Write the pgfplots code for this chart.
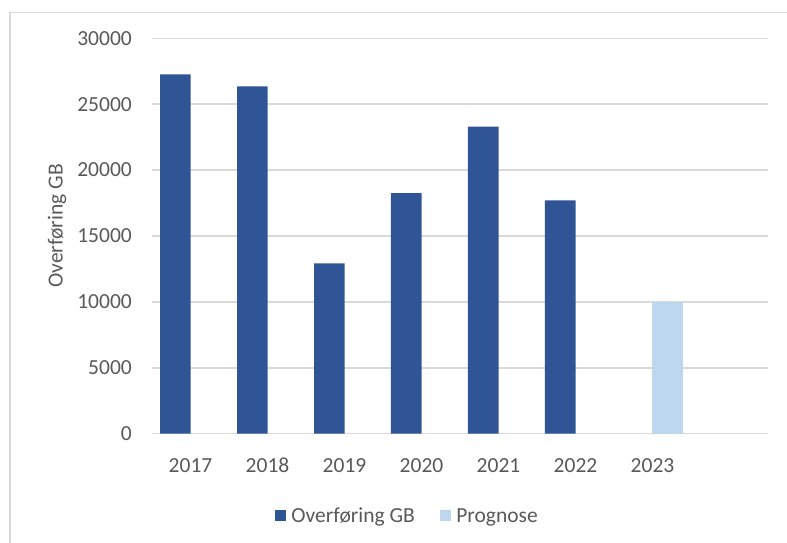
\documentclass[border=0pt]{standalone}
\usepackage{fontspec}
\setmainfont{Carlito}
\usepackage{pgfplots}
\pgfplotsset{compat=1.18}
\definecolor{darkbar}{RGB}{47,85,151}
\definecolor{lightbar}{RGB}{189,215,238}
\definecolor{gridgray}{RGB}{217,217,217}
\definecolor{textgray}{RGB}{89,89,89}
\begin{document}
\begin{tikzpicture}
\useasboundingbox (0pt,0pt) rectangle (787pt,543pt);
\draw[gridgray, line width=1.5pt] (10pt,0pt) -- (10pt,530.5pt) -- (787pt,530.5pt);
\node[rotate=90, text=textgray, font=\fontsize{21.5}{25}\selectfont, inner sep=0pt] at (57pt,317pt) {Overføring GB};
\begin{axis}[
  at={(152pt,109.3pt)}, anchor=south west,
  scale only axis, width=616pt, height=395.4pt,
  xmin=-0.5, xmax=7.5, ymin=0, ymax=30000,
  ytick={0,5000,10000,15000,20000,25000,30000},
  xtick={0,1,2,3,4,5,6},
  xticklabels={2017,2018,2019,2020,2021,2022,2023},
  scaled y ticks=false,
  /pgf/number format/1000 sep={},
  /pgf/number format/assume math mode=true,
  axis line style={draw=none},
  major tick length=0pt,
  tick style={draw=none},
  ymajorgrids,
  major grid style={gridgray, line width=1.5pt},
  tick label style={font=\fontsize{21.5}{25}\selectfont, text=textgray},
  xticklabel style={anchor=base, inner sep=0pt, yshift=-39pt},
  yticklabel style={anchor=east, inner sep=0pt, xshift=-20pt},
  ybar, bar width=30.5pt,
  legend columns=2,
  legend style={at={(0.413,-0.208)}, anchor=center, draw=none, fill=none,
    font=\fontsize{21.5}{25}\selectfont, text=textgray, inner sep=0pt,
    nodes={inner sep=0pt},
    /tikz/every odd column/.append style={column sep=5pt},
    /tikz/every even column/.append style={column sep=25pt}},
  legend image code/.code={\fill[#1] (0pt,-5.5pt) rectangle (11.5pt,6pt);},
]
\addplot[fill=darkbar, draw=none, bar shift=-15.25pt] coordinates {
  (0,27270) (1,26360) (2,12930) (3,18250) (4,23300) (5,17710)};
\addlegendentry{Overføring GB}
\addplot[fill=lightbar, draw=none, bar shift=15.25pt] coordinates {
  (6,10000)};
\addlegendentry{Prognose}
\end{axis}
\end{tikzpicture}
\end{document}
